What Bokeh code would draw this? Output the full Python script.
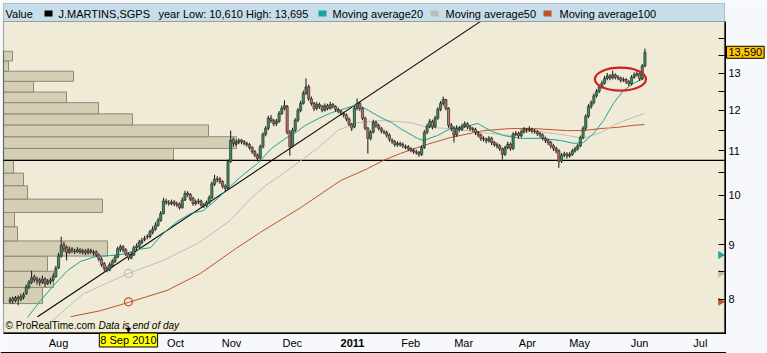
import math
from bokeh.plotting import figure
from bokeh.models import (Range1d, FixedTicker, Label, BoxAnnotation,
                          ColumnDataSource, CustomJSTickFormatter)
from bokeh.embed import file_html
from bokeh.resources import INLINE

# ---------------- data ----------------
# trading-day index 0 = 7 Jul 2010 ... 236 = 6 Jun 2011
opens = [7.96,8.02,7.98,8.04,8.00,8.04,8.10,8.22,8.30,8.40,
         8.36,8.34,8.30,8.36,8.28,8.31,8.34,8.40,8.56,8.78,
         9.00,8.95,8.85,8.92,8.86,8.86,8.90,8.85,8.88,8.84,
         8.89,8.84,8.86,8.80,8.72,8.64,8.56,8.52,8.60,8.68,
         8.76,8.90,8.96,8.90,8.82,8.74,8.80,8.94,8.96,9.04,
         9.10,9.16,9.15,9.24,9.30,9.38,9.48,9.62,9.88,9.84,
         9.82,9.86,9.82,9.82,9.74,9.90,10.05,10.02,9.94,9.82,
         9.86,9.88,9.80,9.78,9.84,9.95,10.24,10.36,10.36,10.30,
         10.20,10.16,10.75,11.28,11.16,11.20,11.26,11.22,11.18,11.15,
         11.08,10.98,10.90,10.84,11.10,11.40,11.55,11.80,11.74,11.66,
         11.72,11.92,12.05,12.10,11.45,11.12,11.50,11.75,12.00,12.18,
         12.45,12.62,12.30,12.18,12.05,12.15,12.10,12.00,12.12,12.05,
         12.15,12.10,12.02,11.98,11.92,11.88,11.78,11.65,11.58,12.05,
         12.18,12.05,11.80,11.55,11.30,11.45,11.70,11.62,11.55,11.46,
         11.45,11.38,11.26,11.22,11.14,11.18,11.15,11.08,11.10,11.05,
         11.02,10.98,10.96,10.92,11.08,11.45,11.60,11.72,11.58,11.80,
         12.02,12.18,12.28,12.05,11.62,11.55,11.38,11.55,11.52,11.60,
         11.66,11.58,11.54,11.52,11.44,11.38,11.30,11.28,11.24,11.30,
         11.20,11.15,11.12,11.05,10.92,11.08,11.16,11.06,11.40,11.42,
         11.36,11.46,11.52,11.50,11.52,11.48,11.47,11.42,11.38,11.30,
         11.25,11.20,11.12,11.06,11.00,10.76,10.90,10.93,10.88,10.92,
         11.00,11.05,11.12,11.32,11.55,11.85,12.10,12.20,12.38,12.50,
         12.62,12.72,12.85,12.92,12.86,12.95,12.88,12.86,12.80,12.82,
         12.76,12.70,12.88,12.95,12.98,12.84,13.20]
highs = [8.04,8.05,8.06,8.07,8.10,8.12,8.26,8.34,8.51,8.44,
         8.40,8.38,8.42,8.39,8.36,8.38,8.45,8.60,8.84,9.15,
         9.05,8.98,8.96,8.95,8.92,8.95,8.93,8.92,8.91,8.93,
         8.92,8.90,8.89,8.83,8.76,8.67,8.60,8.66,8.72,8.80,
         8.96,9.00,8.99,8.93,8.85,8.86,8.98,9.02,9.09,9.13,
         9.17,9.20,9.29,9.36,9.44,9.53,9.67,9.95,9.93,9.90,
         9.91,9.90,9.87,9.85,9.96,10.10,10.09,10.05,9.97,9.91,
         9.93,9.91,9.84,9.89,10.00,10.30,10.45,10.42,10.40,10.33,
         10.24,10.80,11.49,11.32,11.26,11.30,11.29,11.26,11.22,11.19,
         11.11,11.02,10.94,11.15,11.45,11.60,11.86,11.88,11.78,11.78,
         11.98,12.12,12.26,12.14,11.50,11.56,11.80,12.06,12.25,12.52,
         12.85,12.68,12.36,12.22,12.22,12.20,12.14,12.18,12.17,12.22,
         12.19,12.13,12.07,12.01,11.96,11.92,11.82,11.68,12.12,12.31,
         12.22,12.08,11.84,11.58,11.50,11.76,11.74,11.66,11.58,11.51,
         11.49,11.42,11.30,11.26,11.23,11.22,11.20,11.15,11.14,11.09,
         11.06,11.03,11.00,11.13,11.50,11.66,11.78,11.76,11.86,12.08,
         12.24,12.36,12.30,12.08,11.68,11.60,11.62,11.60,11.66,11.72,
         11.70,11.62,11.58,11.56,11.48,11.42,11.35,11.32,11.36,11.34,
         11.24,11.20,11.16,11.08,11.12,11.22,11.20,11.45,11.48,11.46,
         11.52,11.58,11.56,11.60,11.56,11.53,11.50,11.46,11.42,11.34,
         11.29,11.24,11.16,11.10,11.04,10.95,10.98,10.97,10.97,11.05,
         11.10,11.17,11.37,11.60,11.90,12.16,12.26,12.44,12.56,12.68,
         12.79,12.92,13.00,12.97,13.06,12.99,12.94,12.90,12.88,12.86,
         12.80,12.94,13.02,13.05,13.02,13.25,13.695]
lows = [7.93,7.92,7.95,7.90,7.97,8.00,8.08,8.18,8.27,8.30,
        8.26,8.24,8.27,8.22,8.25,8.27,8.31,8.38,8.54,8.75,
        8.86,8.70,8.82,8.84,8.82,8.84,8.82,8.81,8.80,8.81,
        8.82,8.79,8.76,8.68,8.58,8.50,8.48,8.50,8.57,8.65,
        8.74,8.86,8.85,8.78,8.70,8.72,8.78,8.90,8.93,9.00,
        9.06,9.10,9.12,9.20,9.27,9.35,9.45,9.60,9.80,9.78,
        9.79,9.77,9.75,9.70,9.72,9.88,9.97,9.88,9.78,9.79,
        9.82,9.76,9.73,9.75,9.81,9.92,10.20,10.28,10.25,10.15,
        10.08,10.12,10.72,11.10,11.12,11.16,11.16,11.13,11.10,11.03,
        10.93,10.85,10.76,10.80,11.06,11.35,11.50,11.68,11.60,11.60,
        11.68,11.88,12.00,11.40,10.89,11.08,11.45,11.70,11.95,12.15,
        12.40,12.25,12.12,11.98,12.00,12.04,11.95,11.97,12.00,12.02,
        12.05,11.97,11.93,11.87,11.82,11.72,11.60,11.48,11.55,12.00,
        11.98,11.75,11.50,10.94,11.25,11.42,11.56,11.50,11.42,11.40,
        11.32,11.22,11.17,11.10,11.10,11.10,11.07,11.04,11.00,10.97,
        10.93,10.91,10.86,10.88,11.05,11.40,11.55,11.52,11.55,11.76,
        11.98,12.12,12.00,11.56,11.48,11.20,11.34,11.46,11.48,11.56,
        11.52,11.48,11.46,11.38,11.33,11.24,11.22,11.18,11.20,11.14,
        11.10,11.06,11.00,10.80,10.88,11.04,11.00,11.02,11.35,11.30,
        11.32,11.42,11.44,11.46,11.42,11.41,11.36,11.32,11.25,11.19,
        11.14,11.06,11.00,10.94,10.61,10.72,10.85,10.82,10.84,10.88,
        10.96,11.01,11.09,11.28,11.50,11.80,12.04,12.15,12.33,12.45,
        12.57,12.68,12.80,12.80,12.82,12.82,12.80,12.74,12.75,12.70,
        12.64,12.66,12.84,12.90,12.78,12.80,13.16]
closes = [8.00,7.98,8.03,8.01,8.05,8.08,8.22,8.30,8.38,8.35,
          8.33,8.30,8.36,8.28,8.32,8.34,8.40,8.55,8.78,8.98,
          8.92,8.85,8.90,8.88,8.87,8.90,8.86,8.88,8.84,8.89,
          8.86,8.85,8.80,8.72,8.62,8.55,8.52,8.62,8.68,8.76,
          8.92,8.96,8.90,8.82,8.75,8.80,8.94,8.97,9.05,9.08,
          9.12,9.15,9.25,9.30,9.38,9.48,9.62,9.88,9.85,9.83,
          9.86,9.82,9.80,9.74,9.90,10.04,10.02,9.92,9.83,9.86,
          9.88,9.80,9.78,9.85,9.95,10.25,10.35,10.35,10.30,10.20,
          10.15,10.75,11.25,11.18,11.20,11.25,11.22,11.18,11.15,11.08,
          10.98,10.90,10.82,11.10,11.40,11.55,11.80,11.74,11.66,11.72,
          11.92,12.05,12.12,11.45,11.10,11.50,11.75,12.00,12.18,12.45,
          12.62,12.30,12.18,12.05,12.15,12.10,12.00,12.12,12.05,12.15,
          12.10,12.02,11.98,11.92,11.88,11.78,11.65,11.55,12.05,12.18,
          12.05,11.80,11.55,11.30,11.45,11.70,11.62,11.55,11.48,11.45,
          11.38,11.28,11.22,11.15,11.18,11.15,11.12,11.10,11.05,11.02,
          10.98,10.96,10.92,11.08,11.45,11.60,11.72,11.58,11.80,12.02,
          12.18,12.28,12.05,11.62,11.55,11.38,11.55,11.52,11.60,11.66,
          11.58,11.54,11.52,11.44,11.38,11.30,11.28,11.24,11.30,11.20,
          11.15,11.12,11.05,10.92,11.08,11.16,11.06,11.40,11.42,11.36,
          11.46,11.52,11.50,11.52,11.48,11.47,11.42,11.38,11.30,11.25,
          11.20,11.12,11.06,11.00,10.76,10.90,10.93,10.88,10.92,11.00,
          11.05,11.12,11.32,11.55,11.85,12.10,12.20,12.38,12.50,12.62,
          12.72,12.85,12.92,12.86,12.95,12.88,12.86,12.80,12.82,12.76,
          12.70,12.88,12.95,12.98,12.84,13.20,13.59]

# moving averages, sampled along the drawn curves (trading-day index, price)
ma20_x = [6.5,11.3,16.1,21.3,26.2,31.7,37.3,42.9,46.7,52.2,57,62.2,67.1,71.9,77.1,81.9,
          86.8,92,97.2,102.4,106.1,109.8,114.6,119.5,124.7,129.1,133.2,137.7,141.8,145.1,
          151.4,153.7,158.9,163.7,168.5,173.8,178.5,183.4,189.7,197.2,204.6,209.4,213.2,
          216.9,220.6,224.3,228,231.7,235.5]
ma20_y = [7.70,7.98,8.24,8.51,8.68,8.77,8.79,8.82,8.90,8.94,9.22,9.46,9.62,9.68,9.93,10.20,
          10.46,10.71,11.06,11.30,11.44,11.62,11.79,11.94,12.05,12.15,12.00,11.82,11.69,11.54,
          11.30,11.25,11.37,11.54,11.57,11.67,11.49,11.37,11.30,11.30,11.25,11.18,11.20,
          11.42,11.74,12.18,12.52,12.71,12.85]
ma50_x = [15,27.3,44,57,69.7,81.9,89.4,94.9,99.4,114.3,121.7,129.1,138.8,148.8,155.2,163.7,
          176,186,194.6,207.2,213.2,219.5,225.8,231.7,235.8]
ma50_y = [7.62,8.10,8.46,8.70,9.02,9.48,9.93,10.21,10.39,11.06,11.49,11.69,11.74,11.69,11.57,
          11.54,11.44,11.37,11.49,11.37,11.30,11.44,11.67,11.82,11.92]
ma100_x = [22.5,33.6,44,58.5,70.8,83,93.1,108,122.8,132.9,138.8,145.1,153.7,163.7,176,186,
           194.6,207.2,213.2,219.5,225.8,231.7,235.8]
ma100_y = [7.71,7.81,7.95,8.16,8.46,8.89,9.24,9.74,10.32,10.59,10.78,10.94,11.13,11.32,11.49,
           11.54,11.54,11.49,11.49,11.54,11.57,11.62,11.64]

# volume-by-price profile: price bin edges and relative volume per bin
vp_edges = [7.93,8.21,8.50,8.78,9.07,9.35,9.64,9.92,10.21,10.49,10.78,
            11.06,11.34,11.63,11.91,12.20,12.48,12.77,13.05,13.34,13.62]
vp_volume = [39,50,44,104,14,11,99,24,20,10,170,233,205,129,95,63,30,70,5,9]

# drawn objects
trend_x = [10.2, 174.9]
trend_y = [7.71, 14.52]
support_level = 10.78
cross_idx = 44                      # 8 Sep 2010
cross_ma = [8.80, 8.46, 7.96]       # MA20, MA50, MA100 values at the cursor
ellipse_x, ellipse_y = 226.9, 12.83
last_close = 13.59

month_pos = [18.0, 61.5, 82.3, 104.9, 148.9, 168.6, 192.3, 211.7, 234.0, 256.6]
month_lab = ["Aug", "Oct", "Nov", "Dec", "Feb", "Mar", "Apr", "May", "Jun", "Jul"]
year_pos, year_lab = 127.3, "2011"

# ---------------- layout / styling ----------------
W, H = 767, 353
PX = 2.69                 # pixels per trading day
X_AT0 = 9.6               # canvas x of index 0
PX_LN = 466.5             # pixels per unit of ln(price)
Y13 = 72.5                # canvas y of price 13


def ix(cx):               # canvas x -> index
    return (cx - X_AT0) / PX


def pr(cy):               # canvas y -> price
    return 13 * math.exp((Y13 - cy) / PX_LN)


def sy(cy):               # canvas y -> screen y (from bottom)
    return H - cy


CH_L, CH_R, CH_T, CH_B = 3, 724, 21, 332     # chart box on the canvas
FONT = "Liberation Sans"
BG = "#efebd6"
PAGE = "#f6f8fb"
GREEN = "#3b9160"
RED = "#c46e6e"
TEAL = "#1aa3a0"
GRAY = "#bdbdb8"
ORANGE = "#c2522a"

p = figure(width=W, height=H, output_backend="svg", toolbar_location=None,
           y_axis_type="log", y_axis_location="right",
           x_range=Range1d(ix(0), ix(W)), y_range=Range1d(pr(H), pr(0)),
           min_border=0, min_border_left=0, min_border_right=0,
           min_border_top=0, min_border_bottom=0,
           background_fill_color=PAGE, border_fill_color=PAGE,
           outline_line_color=None)
p.grid.visible = False

# chart box (drawn beneath everything)
p.add_layout(BoxAnnotation(left=CH_L, right=CH_R, bottom=sy(CH_B), top=sy(CH_T),
                           left_units="screen", right_units="screen",
                           bottom_units="screen", top_units="screen",
                           fill_color=BG, fill_alpha=1, line_color=None, level="underlay"))

# axes, pinned to the chart box edges
ya = p.yaxis[0]
ya.fixed_location = ix(CH_R)
ya.ticker = FixedTicker(ticks=[8, 9, 10, 11, 12, 13],
                        minor_ticks=[8.5, 9.5, 10.5, 11.5, 12.5, 13.5, 14])
ya.formatter = CustomJSTickFormatter(code="return tick.toFixed(0);")
ya.major_tick_in = 6; ya.major_tick_out = 0
ya.minor_tick_in = 6; ya.minor_tick_out = 0
ya.major_tick_line_color = "#000"; ya.minor_tick_line_color = "#000"
ya.axis_line_color = None
ya.major_label_text_font = FONT; ya.major_label_text_font_size = "11px"
ya.major_label_text_color = "#000"; ya.major_label_standoff = 4

xa = p.xaxis[0]
xa.fixed_location = pr(CH_B)
xa.ticker = FixedTicker(ticks=month_pos)
xa.formatter = CustomJSTickFormatter(args=dict(pos=month_pos, lab=month_lab), code="""
    for (let i = 0; i < pos.length; i++) { if (Math.abs(pos[i] - tick) < 0.01) return lab[i]; }
    return '';""")
xa.major_tick_in = 0; xa.major_tick_out = 0; xa.minor_tick_in = 0; xa.minor_tick_out = 0
xa.axis_line_color = None
xa.major_label_text_font = FONT; xa.major_label_text_font_size = "11px"
xa.major_label_text_color = "#000"; xa.major_label_standoff = 4

# volume profile
left0 = ix(CH_L)
p.quad(left=[left0] * len(vp_volume), right=[left0 + v / PX for v in vp_volume],
       bottom=vp_edges[:-1], top=vp_edges[1:],
       fill_color="#d4cfb4", line_color="#8d8a74", line_width=1)

# support line and trend line
p.line([ix(CH_L), ix(CH_R)], [support_level, support_level], line_color="#000", line_width=1.1)
p.line(trend_x, trend_y, line_color="#000", line_width=1.1)

# moving averages
p.line(ma100_x, ma100_y, line_color=ORANGE, line_width=1.0)
p.line(ma50_x, ma50_y, line_color=GRAY, line_width=1.0)
p.line(ma20_x, ma20_y, line_color=TEAL, line_width=1.0)

# candles
idx = list(range(len(closes)))
src = ColumnDataSource(dict(
    x=idx, o=opens, h=highs, l=lows, c=closes,
    top=[max(a, b) for a, b in zip(opens, closes)],
    bot=[min(a, b) for a, b in zip(opens, closes)],
    col=[GREEN if c >= o else RED for o, c in zip(opens, closes)]))
p.segment(x0="x", y0="h", x1="x", y1="l", source=src, line_color="#111", line_width=1)
p.vbar(x="x", width=0.8, top="top", bottom="bot", source=src,
       fill_color="col", line_color="#2b2b2b", line_width=0.7)

# cursor circles on MA50 / MA100
p.scatter([cross_idx, cross_idx], [cross_ma[1], cross_ma[2]], marker="circle", size=8,
          fill_color=None, line_color=[GRAY, ORANGE], line_width=1.2)

# highlight ellipse
p.ellipse(x=[ellipse_x], y=[ellipse_y], width=51, height=23,
          width_units="screen", height_units="screen",
          fill_color=None, line_color="#d22020", line_width=2.2)

# MA markers at the price axis
p.scatter([ix(CH_R - 4)] * 3, cross_ma, marker="triangle", angle=-math.pi / 2, size=8,
          fill_color=[TEAL, GRAY, ORANGE], line_color=None)

# chart border
p.add_layout(BoxAnnotation(left=CH_L, right=CH_R, bottom=sy(CH_B), top=sy(CH_T),
                           left_units="screen", right_units="screen",
                           bottom_units="screen", top_units="screen",
                           fill_alpha=0, line_color="#000", line_width=1.2))
p.add_layout(BoxAnnotation(left=CH_R, right=CH_R + 1.5, bottom=sy(CH_B + 1), top=sy(CH_T),
                           left_units="screen", right_units="screen",
                           bottom_units="screen", top_units="screen",
                           fill_color="#000", fill_alpha=1, line_color=None))
p.add_layout(BoxAnnotation(left=CH_L, right=CH_R + 1.5, bottom=sy(CH_B + 1.5), top=sy(CH_B),
                           left_units="screen", right_units="screen",
                           bottom_units="screen", top_units="screen",
                           fill_color="#000", fill_alpha=1, line_color=None))

# ---------------- header bar ----------------
p.add_layout(BoxAnnotation(left=CH_L, right=CH_R, bottom=sy(CH_T), top=sy(3),
                           left_units="screen", right_units="screen",
                           bottom_units="screen", top_units="screen",
                           fill_color="#c7dde9", fill_alpha=1,
                           line_color="#3f4f5a", line_width=1))
TY = sy(13)


def txt(x, text, **kw):
    p.add_layout(Label(x=x, y=TY, x_units="screen", y_units="screen", text=text,
                       text_font=FONT, text_font_size="11px", text_baseline="middle",
                       text_color="#000", **kw))


def sq(x, color):
    p.add_layout(BoxAnnotation(left=x, right=x + 8, bottom=TY - 3, top=TY + 3,
                               left_units="screen", right_units="screen",
                               bottom_units="screen", top_units="screen",
                               fill_color=color, fill_alpha=1, line_color=None))


txt(5, "Value")
sq(44, "#000000")
txt(58, "J.MARTINS,SGPS")
txt(158, "year Low: 10,610 High: 13,695")
sq(318, TEAL)
txt(332, "Moving average20")
sq(430, GRAY)
txt(445, "Moving average50")
sq(543, ORANGE)
txt(559, "Moving average100")

# footer texts
p.add_layout(Label(x=5, y=sy(325), x_units="screen", y_units="screen", text="\u00a9 ProRealTime.com",
                   text_font=FONT, text_font_size="10px", text_baseline="middle", text_color="#000"))
p.add_layout(Label(x=98, y=sy(325), x_units="screen", y_units="screen", text="Data is end of day",
                   text_font=FONT, text_font_size="10px", text_font_style="italic",
                   text_baseline="middle", text_color="#000"))
p.add_layout(Label(x=cross_idx, y=sy(329), y_units="screen", text="\u25bc", text_align="center",
                   text_font=FONT, text_font_size="9px", text_baseline="middle", text_color="#000"))

# cursor date box and bold year label under the chart
p.add_layout(Label(x=cross_idx, y=sy(339.5), y_units="screen", text="8 Sep 2010", text_align="center",
                   text_baseline="middle", text_font=FONT, text_font_size="11px", text_color="#000",
                   background_fill_color="#ffff00", border_line_color="#000", padding=1))
p.add_layout(Label(x=year_pos, y=sy(342.5), y_units="screen", text=year_lab, text_align="center",
                   text_baseline="middle", text_font=FONT, text_font_size="11px",
                   text_font_style="bold", text_color="#000"))

# last value box on the price axis
p.add_layout(Label(x=CH_R + 2, y=last_close, x_units="screen", text="13,590",
                   text_baseline="middle", text_font=FONT, text_font_size="11px", text_color="#000",
                   background_fill_color="#ffc400", border_line_color="#000", padding=2))

# outer bottom rule
p.add_layout(BoxAnnotation(left=0, right=CH_R + 1.5, bottom=0, top=1.5,
                           left_units="screen", right_units="screen",
                           bottom_units="screen", top_units="screen",
                           fill_color="#000", fill_alpha=1, line_color=None))

open("out.html", "w").write(file_html(p, INLINE))
